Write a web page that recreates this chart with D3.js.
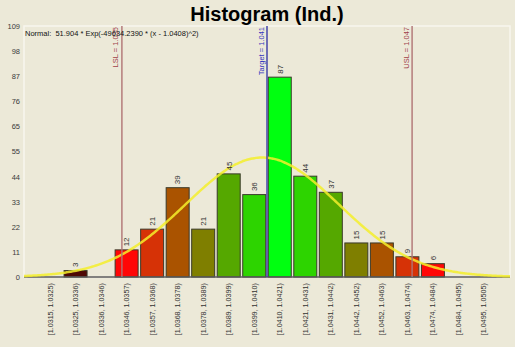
<!DOCTYPE html>
<html>
<head>
<meta charset="utf-8">
<script src="https://cdn.jsdelivr.net/npm/d3@7/dist/d3.min.js"></script>
<style>
  html, body { margin: 0; padding: 0; background: #ece9d8; }
  svg { display: block; }
  text { font-family: Arial, "Liberation Sans", sans-serif; }
</style>
</head>
<body>
<script>
// Bin edges of the individual-measurement histogram
const binEdges = [1.0315, 1.0325, 1.0336, 1.0346, 1.0357, 1.0368, 1.0378, 1.0389, 1.0399,
                  1.0410, 1.0421, 1.0431, 1.0442, 1.0452, 1.0463, 1.0474, 1.0484, 1.0495, 1.0505];
const binLabels = ["[1.0315, 1.0325)", "[1.0325, 1.0336)", "[1.0336, 1.0346)", "[1.0346, 1.0357)",
                   "[1.0357, 1.0368)", "[1.0368, 1.0378)", "[1.0378, 1.0389)", "[1.0389, 1.0399)",
                   "[1.0399, 1.0410)", "[1.0410, 1.0421)", "[1.0421, 1.0431)", "[1.0431, 1.0442)",
                   "[1.0442, 1.0452)", "[1.0452, 1.0463)", "[1.0463, 1.0474)", "[1.0474, 1.0484)",
                   "[1.0484, 1.0495)", "[1.0495, 1.0505)"];
const counts = [0, 3, 0, 12, 21, 39, 21, 45, 36, 87, 44, 37, 15, 15, 9, 6, 0, 0];
const barColors = ["#550000", "#4e0804", "#550000", "#ff0606", "#d63206", "#aa5300", "#7f7f00",
                   "#55a800", "#2dd400", "#00ff10", "#2dd400", "#55a800", "#7f7f00", "#aa5300",
                   "#d63206", "#ff0606", "#ff0606", "#ff0606"];
const yMax = 109;
const yTickLabels = ["0", "11", "22", "33", "44", "55", "65", "76", "87", "98", "109"];

// Specification limits and target
const specLines = [
  { name: "LSL", value: 1.035, color: "#b07474", text: "#a0404a" },
  { name: "Target", value: 1.041, color: "#3a3aa8", text: "#3535c0" },
  { name: "USL", value: 1.047, color: "#b07474", text: "#a0404a" }
];

// Fitted normal curve: amp * exp(-k * (x - mu)^2)
const normAmp = 51.904, normK = 49634.2390, normMu = 1.0408;

const W = 515, H = 347;
const plot = { left: 24, right: 510, top: 26, bottom: 277 };

const svg = d3.select("body").append("svg").attr("width", W).attr("height", H);

svg.append("rect").attr("width", W).attr("height", H).attr("fill", "#ece9d8");

// Plot frame
svg.append("rect")
  .attr("x", plot.left).attr("y", plot.top)
  .attr("width", plot.right - plot.left).attr("height", plot.bottom - plot.top)
  .attr("fill", "#ece9d8").attr("stroke", "#f8f6ee").attr("stroke-width", 1.5);

// Title
svg.append("text")
  .attr("x", 267).attr("y", 21)
  .attr("text-anchor", "middle")
  .attr("font-size", 20).attr("font-weight", "bold").attr("fill", "#000")
  .text("Histogram (Ind.)");

const x = d3.scaleBand()
  .domain(d3.range(counts.length))
  .range([plot.left, plot.right])
  .paddingInner(0.06)
  .paddingOuter(0.55);

const step = x.step();
const firstCenter = x(0) + x.bandwidth() / 2;
const lastCenter = x(counts.length - 1) + x.bandwidth() / 2;

// Continuous measurement scale aligned with the bins
const xv = d3.scaleLinear()
  .domain([binEdges[0], binEdges[binEdges.length - 1]])
  .range([firstCenter - step / 2, lastCenter + step / 2]);

const y = d3.scaleLinear().domain([0, yMax]).range([plot.bottom, plot.top]);

// Y tick labels
const yTickVals = d3.range(yTickLabels.length).map(i => yMax * i / (yTickLabels.length - 1));
const yAxis = d3.axisLeft(y).tickValues(yTickVals).tickSize(0).tickPadding(4)
  .tickFormat((d, i) => yTickLabels[i]);
const gy = svg.append("g").attr("transform", `translate(${plot.left},0)`).call(yAxis);
gy.select(".domain").remove();
gy.selectAll("text").attr("font-size", 7.5).attr("fill", "#3a3a3a")
  .attr("font-family", "Arial, 'Liberation Sans', sans-serif");

const filled = counts.map((c, i) => ({ c, i })).filter(d => d.c > 0);

// Bars
svg.append("g").selectAll("rect")
  .data(filled)
  .join("rect")
  .attr("x", d => x(d.i) + 0.5)
  .attr("y", d => y(d.c) + 0.5)
  .attr("width", x.bandwidth() - 1)
  .attr("height", d => y(0) - y(d.c) - 0.5)
  .attr("fill", d => barColors[d.i])
  .attr("stroke", "#3a3a2a")
  .attr("stroke-width", 1);

// Bottom axis line
svg.append("line")
  .attr("x1", plot.left).attr("x2", plot.right)
  .attr("y1", plot.bottom).attr("y2", plot.bottom)
  .attr("stroke", "#5a5a5a").attr("stroke-width", 1.5);

// Normal curve
const curvePts = d3.range(plot.left, plot.right + 0.5, 2).map(px => {
  const v = xv.invert(px);
  return [px, y(normAmp * Math.exp(-normK * (v - normMu) * (v - normMu)))];
});
svg.append("path")
  .attr("d", d3.line().curve(d3.curveBasis)(curvePts))
  .attr("fill", "none")
  .attr("stroke", "#f4ee2c")
  .attr("stroke-opacity", 0.85)
  .attr("stroke-width", 2.5);

// Spec lines
specLines.forEach(s => {
  const px = xv(s.value);
  svg.append("line")
    .attr("x1", px).attr("x2", px)
    .attr("y1", plot.top).attr("y2", plot.bottom)
    .attr("stroke", s.color).attr("stroke-width", 1.4);
  svg.append("text")
    .attr("transform", `translate(${px - 3.5},${plot.top + 1}) rotate(-90)`)
    .attr("text-anchor", "end")
    .attr("font-size", 7.5)
    .attr("fill", s.text)
    .text(`${s.name} = ${s.value}`);
});

// Value labels above bars
svg.append("g").selectAll("text")
  .data(filled)
  .join("text")
  .attr("transform", d => `translate(${x(d.i) + x.bandwidth() / 2},${y(d.c) - 3}) rotate(-90)`)
  .attr("dy", "0.35em")
  .attr("text-anchor", "start")
  .attr("font-size", 8)
  .attr("fill", "#333")
  .text(d => d.c);

// Bin labels
svg.append("g").selectAll("text")
  .data(binLabels)
  .join("text")
  .attr("transform", (d, i) => `translate(${x(i) + x.bandwidth() / 2},${plot.bottom + 6}) rotate(-90)`)
  .attr("dy", "0.35em")
  .attr("text-anchor", "end")
  .attr("font-size", 7.2)
  .attr("fill", "#333")
  .text(d => d);

// Normal fit equation
svg.append("text")
  .attr("x", plot.left + 1).attr("y", 36)
  .attr("font-size", 7.5).attr("fill", "#111")
  .attr("xml:space", "preserve")
  .style("white-space", "pre")
  .text(`Normal:  ${normAmp.toFixed(3)} * Exp(-${normK.toFixed(4)} * (x - ${normMu.toFixed(4)})^2)`);
</script>
</body>
</html>
